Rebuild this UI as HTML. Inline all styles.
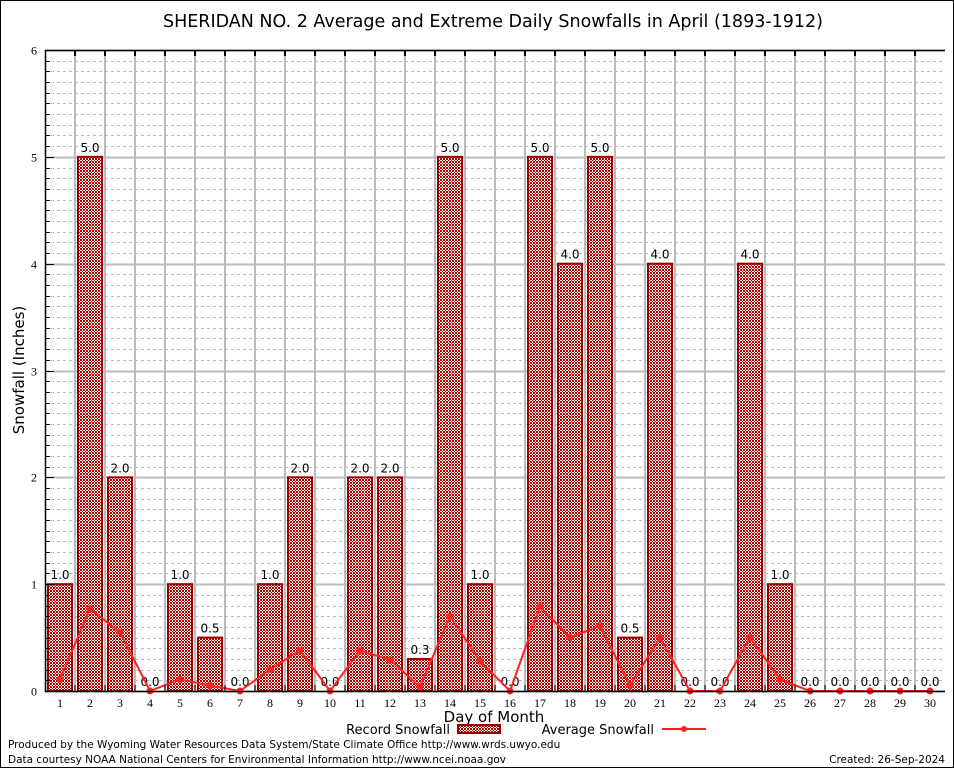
<!DOCTYPE html>
<html><head><meta charset="utf-8"><style>
body{margin:0;background:#fff}
svg{display:block;font-family:"DejaVu Sans","Liberation Sans",sans-serif}
</style></head><body>
<svg id="chart" width="954" height="768" viewBox="0 0 954 768" xmlns="http://www.w3.org/2000/svg">
<defs>
<pattern id="hatch" width="3" height="3" patternUnits="userSpaceOnUse">
<rect width="3" height="3" fill="#fff"/>
<rect x="0" y="0" width="1" height="1" fill="#b00000"/>
<rect x="2" y="0" width="1" height="1" fill="#b00000"/>
<rect x="1" y="1" width="1" height="1" fill="#b00000"/>
<rect x="0" y="2" width="1" height="1" fill="#b00000"/>
<rect x="2" y="2" width="1" height="1" fill="#b00000"/>
</pattern>
</defs>
<rect x="0.5" y="0.5" width="953" height="767" fill="#fff" stroke="#000"/>
<text x="493" y="27" font-size="17.5" text-anchor="middle">SHERIDAN NO. 2 Average and Extreme Daily Snowfalls in April (1893-1912)</text>
<g id="grid"></g>
<g id="bars"></g>
<g id="line"></g>
<g id="axes"></g>
<text x="24" y="370" font-size="15" text-anchor="middle" transform="rotate(-90 24 370)">Snowfall (Inches)</text>
<text x="494" y="722" font-size="15" text-anchor="middle">Day of Month</text>
<g>
<text x="450" y="734" font-size="13" text-anchor="end">Record Snowfall</text>
<rect x="458" y="725" width="42" height="8" fill="url(#hatch)" stroke="#990000" stroke-width="2"/>
<text x="654" y="734" font-size="13" text-anchor="end">Average Snowfall</text>
<line x1="662" y1="729" x2="706" y2="729" stroke="#ff2020" stroke-width="2"/>
<circle cx="684" cy="729" r="3" fill="#ff2020"/>
</g>
<text x="8" y="748" font-size="10.5">Produced by the Wyoming Water Resources Data System/State Climate Office http://www.wrds.uwyo.edu</text>
<text x="8" y="763" font-size="10.5">Data courtesy NOAA National Centers for Environmental Information http://www.ncei.noaa.gov</text>
<text x="945" y="763" font-size="10.5" text-anchor="end">Created:  26-Sep-2024</text>
</svg>
<script>
const days = [1,2,3,4,5,6,7,8,9,10,11,12,13,14,15,16,17,18,19,20,21,22,23,24,25,26,27,28,29,30];
const recordSnow = [1.0,5.0,2.0,0.0,1.0,0.5,0.0,1.0,2.0,0.0,2.0,2.0,0.3,5.0,1.0,0.0,5.0,4.0,5.0,0.5,4.0,0.0,0.0,4.0,1.0,0.0,0.0,0.0,0.0,0.0];
const avgSnow = [0.11,0.77,0.55,0.0,0.11,0.05,0.0,0.2,0.38,0.0,0.38,0.29,0.04,0.7,0.28,0.0,0.79,0.5,0.61,0.05,0.5,0.0,0.0,0.5,0.11,0.0,0.0,0.0,0.0,0.0];
const yTicks = [0,1,2,3,4,5,6];
const NS='http://www.w3.org/2000/svg';
const L=45,R=945,T=50,B=691,yMax=6;
const bw=(R-L)/days.length;
const xC=i=>L+bw*(i+0.5);
const y=v=>B-(v/yMax)*(B-T);
function mk(tag,attrs,parent){const e=document.createElementNS(NS,tag);for(const k in attrs)e.setAttribute(k,attrs[k]);parent.appendChild(e);return e;}
const grid=document.getElementById('grid'),bars=document.getElementById('bars'),line=document.getElementById('line'),axes=document.getElementById('axes');
for(let k=1;k<yMax*10;k++){if(k%10===0)continue;const yy=Math.round(y(k/10))+0.5;
 const g=mk('line',{x1:L,x2:R,y1:yy,y2:yy,stroke:'#bbb','stroke-dasharray':'3,3'},grid);
 
 
 const t=mk('line',{x1:L,x2:L+5,y1:yy,y2:yy,stroke:'#000'},axes);
 
 }
yTicks.forEach(v=>{const yy=Math.round(y(v))+0.5;
 const g=mk('line',{x1:L,x2:R,y1:yy,y2:yy,stroke:'#bbb','stroke-width':2},grid);
 
 
 const t=mk('line',{x1:L,x2:L+9,y1:yy,y2:yy,stroke:'#000'},axes);
 
 
 const tx=mk('text',{x:L-8,y:yy+4,'font-size':12,'text-anchor':'end','font-family':'Liberation Serif, serif'},axes);tx.textContent=v;
 
 });
for(let i=1;i<days.length;i++){const xx=L+bw*i;
 const g=mk('line',{x1:xx,x2:xx,y1:T,y2:B,stroke:'#bbb','stroke-width':2},grid);
 
 
 const t=mk('line',{x1:xx,x2:xx,y1:T,y2:T+6,stroke:'#000','stroke-width':2},axes);
 
 
 const tb=mk('line',{x1:xx,x2:xx,y1:B,y2:B-6,stroke:'#000','stroke-width':1},axes);
 
 }
days.forEach((d,i)=>{const v=recordSnow[i],cx=xC(i);
 if(v>0){const r=mk('rect',{x:cx-12,y:y(v),width:24,height:B-y(v),fill:'url(#hatch)',stroke:'#990000','stroke-width':2},bars);
  
  }
 const lb=mk('text',{x:cx,y:y(v)-5,'font-size':12,'text-anchor':'middle'},bars);lb.textContent=v.toFixed(1);
 
 
 const tx=mk('text',{x:cx,y:B+16,'font-size':12,'text-anchor':'middle','font-family':'Liberation Serif, serif'},axes);tx.textContent=d;
 
 });
const pts=avgSnow.map((v,i)=>xC(i)+','+y(v)).join(' ');
const pl=mk('polyline',{points:pts,fill:'none',stroke:'#ff2020','stroke-width':2},line);


avgSnow.forEach((v,i)=>{const c=mk('circle',{cx:xC(i),cy:y(v),r:3.5,fill:'#ff2020'},line);
 
 });
const ax=mk('path',{d:`M${L+0.5},${T} V${B+0.5} H${R} M${L},${T+0.5} H${R}`,fill:'none',stroke:'#000','stroke-width':1.5},axes);


</script>
</body></html>
